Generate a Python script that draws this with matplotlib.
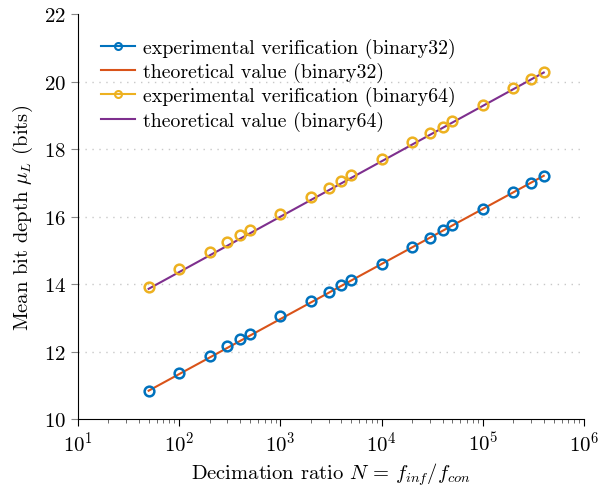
import matplotlib
matplotlib.use("Agg")
import matplotlib.pyplot as plt
from matplotlib.ticker import LogLocator

plt.rcParams['font.family'] = 'cmr10'
plt.rcParams['mathtext.fontset'] = 'cm'
plt.rcParams['axes.formatter.use_mathtext'] = True

# decimation ratios
N = [50, 100, 200, 300, 400, 500, 1000, 2000, 3000, 4000, 5000,
     10000, 20000, 30000, 40000, 50000, 100000, 200000, 300000, 400000]

# measured mean bit depth
exp32 = [10.84, 11.36, 11.87, 12.16, 12.36, 12.53, 13.04, 13.50, 13.78, 13.98, 14.13,
         14.61, 15.11, 15.38, 15.59, 15.76, 16.22, 16.72, 16.99, 17.20]
exp64 = [13.90, 14.44, 14.96, 15.26, 15.44, 15.61, 16.09, 16.58, 16.85, 17.07, 17.22,
         17.72, 18.20, 18.47, 18.67, 18.84, 19.32, 19.81, 20.09, 20.29]

# theoretical lines (endpoints)
N_theo = [50, 400000]
theo32 = [10.84, 17.21]
theo64 = [13.86, 20.27]

fig = plt.figure(figsize=(5.99, 4.89), dpi=100)
ax = fig.add_axes([0.130, 0.141, 0.845, 0.828])

ax.plot(N, exp32, 'o', color='#0072BD', mfc='none', mew=1.8, ms=7,
        label='experimental verification (binary32)', zorder=3)
ax.plot(N_theo, theo32, '-', color='#D95319', lw=1.5,
        label='theoretical value (binary32)')
ax.plot(N, exp64, 'o', color='#EDB120', mfc='none', mew=1.8, ms=7,
        label='experimental verification (binary64)', zorder=3)
ax.plot(N_theo, theo64, '-', color='#7E2F8E', lw=1.5,
        label='theoretical value (binary64)')

ax.set_xscale('log')
ax.set_xlim(10, 1e6)
ax.set_ylim(10, 22)
ax.set_yticks([10, 12, 14, 16, 18, 20, 22])
ax.xaxis.set_major_locator(LogLocator(base=10, numticks=10))
ax.xaxis.set_minor_locator(LogLocator(base=10, subs=range(2, 10), numticks=20))

ax.spines['top'].set_visible(False)
ax.spines['right'].set_visible(False)
ax.tick_params(axis='both', which='major', direction='out', length=5, labelsize=15)
ax.tick_params(axis='x', which='minor', direction='out', length=3, color='#555555')
ax.tick_params(axis='y', which='major', color='#888888')

# dotted horizontal grid, only inside the range
for g in [12, 14, 16, 18, 20]:
    ax.axhline(g, linestyle=(0, (1, 4)), color='#c8c8c8', lw=1, zorder=0)

ax.set_xlabel(r'Decimation ratio $N\,=\,f_{inf}/f_{con}$', fontsize=14.8)
ax.set_ylabel(r'Mean bit depth $\mu_L$ (bits)', fontsize=14.8, labelpad=6)

leg_handles = [
    plt.Line2D([], [], color='#0072BD', marker='o', mfc='none', mew=1.5, ms=5, lw=1.5),
    plt.Line2D([], [], color='#D95319', lw=1.5),
    plt.Line2D([], [], color='#EDB120', marker='o', mfc='none', mew=1.5, ms=5, lw=1.5),
    plt.Line2D([], [], color='#7E2F8E', lw=1.5),
]
leg_labels = ['experimental verification (binary32)', 'theoretical value (binary32)',
              'experimental verification (binary64)', 'theoretical value (binary64)']
ax.legend(leg_handles, leg_labels, loc='upper left', frameon=False, fontsize=14.3,
          handlelength=1.7, handletextpad=0.4, labelspacing=0.2,
          bbox_to_anchor=(0.01, 0.985))

fig.savefig('out.png', dpi=100)
